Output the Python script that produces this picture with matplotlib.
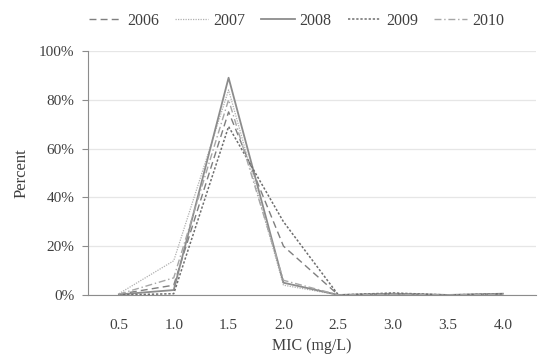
import numpy as np
import matplotlib.pyplot as plt
from matplotlib.ticker import PercentFormatter

plt.rcParams['font.family'] = ['Liberation Serif', 'DejaVu Serif']

mic = ["0.5", "1.0", "1.5", "2.0", "2.5", "3.0", "3.5", "4.0"]
y2006 = [0.3, 4, 75, 20, 0, 0.3, 0, 0.3]
y2007 = [0.5, 14, 84, 4, 0, 0.5, 0, 0.3]
y2008 = [0.2, 2, 89, 5, 0, 0.5, 0, 0.5]
y2009 = [0.0, 0.5, 69, 30, 0, 0.8, 0, 0.5]
y2010 = [0.3, 7, 80, 6, 0, 0.3, 0, 0.3]

fig = plt.figure(figsize=(5.44, 3.61), dpi=100)
ax = fig.add_axes([0.162, 0.183, 0.823, 0.676])

x = np.arange(len(mic))
ax.plot(x, np.array(y2006) / 100, color='#7f7f7f', lw=1.0, ls=(0, (5, 3)), label='2006')
ax.plot(x, np.array(y2007) / 100, color='#b0b0b0', lw=0.9, ls=(0, (1, 1)), label='2007')
ax.plot(x, np.array(y2008) / 100, color='#8c8c8c', lw=1.3, ls='-', label='2008')
ax.plot(x, np.array(y2009) / 100, color='#6e6e6e', lw=1.1, ls=(0, (1.5, 1.2)), label='2009')
ax.plot(x, np.array(y2010) / 100, color='#a6a6a6', lw=1.0, ls=(0, (5, 2, 1, 2)), label='2010')

ax.set_xlim(-0.56, 7.6)
ax.set_ylim(0, 1.0)
ax.set_xticks(x)
ax.set_xticklabels(mic)
ax.set_yticks(np.arange(0, 1.01, 0.2))
ax.yaxis.set_major_formatter(PercentFormatter(1.0, decimals=0))
ax.grid(axis='y', color='#e6e6e6', lw=0.9)
ax.set_axisbelow(True)
for s in ['top', 'right']:
    ax.spines[s].set_visible(False)
ax.spines['left'].set_color('#8c8c8c')
ax.spines['bottom'].set_color('#8c8c8c')
ax.tick_params(axis='x', length=0, pad=17, labelsize=11, colors='#404040')
ax.tick_params(axis='y', length=4, color='#8c8c8c', labelsize=11, labelcolor='#404040', pad=6)
ax.set_xlabel('MIC (mg/L)', fontsize=11.5, color='#404040', labelpad=5)
ax.set_ylabel('Percent', fontsize=12, color='#404040', labelpad=7)

fig.legend(loc='upper center', bbox_to_anchor=(0.545, 1.005), ncol=5, frameon=False,
           fontsize=11.5, handlelength=2.1, columnspacing=1.0, handletextpad=0.3,
           labelcolor='#404040')

fig.savefig('out.png', dpi=100)
